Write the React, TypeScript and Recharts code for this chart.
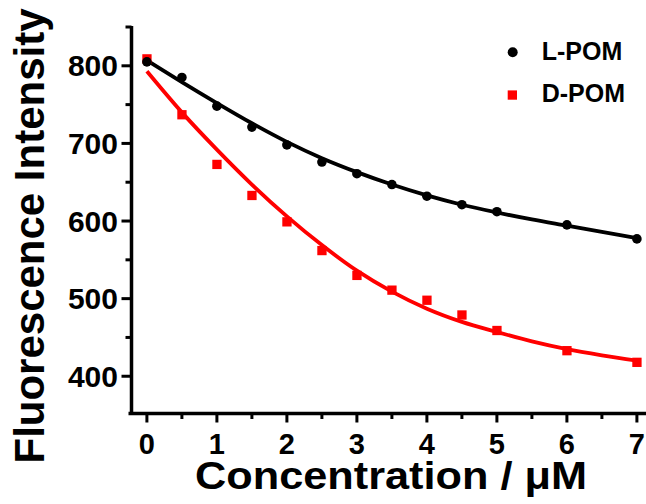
import React from 'react'
import { ComposedChart, Line, Scatter, XAxis, YAxis, Legend } from 'recharts'

// measured points
const concentrations = [0, 0.5, 1, 1.5, 2, 2.5, 3, 3.5, 4, 4.5, 5, 6, 7]
const lPom = [805, 785, 748, 721, 698, 676, 661, 647, 632, 621, 612, 595, 577]
const dPom = [809, 737, 673, 633, 599, 562, 530, 511, 498, 479, 459, 433, 418]

// fitted curves
const fitX = [0, 0.5, 1, 1.5, 2, 2.5, 3, 3.5, 4, 4.5, 5, 5.5, 6, 6.5, 7]
const lFit = [807, 779, 752, 726, 702, 681, 663, 647, 633, 621, 611, 602, 594, 586, 578]
const dFit = [793, 740, 692, 647, 606, 569, 536, 509, 487, 470, 457, 445, 435, 427, 420]

const xDomain = [-0.22, 7.13]
const yDomain = [352, 850]
const xMajorTicks = [0, 1, 2, 3, 4, 5, 6, 7]
const xMinorTicks = [0.5, 1.5, 2.5, 3.5, 4.5, 5.5, 6.5]
const yMajorTicks = [400, 500, 600, 700, 800]
const yMinorTicks = [450, 550, 650, 750, 850]

const seriesNames = ['L-POM', 'D-POM']
const seriesColors = ['#000000', '#ff0000']

const FONT = '"Liberation Sans", Arial, sans-serif'
const AXIS_W = 3.5

const lPoints = concentrations.map((x, i) => ({ x, y: lPom[i] }))
const dPoints = concentrations.map((x, i) => ({ x, y: dPom[i] }))
const lFitData = fitX.map((x, i) => ({ x, y: lFit[i] }))
const dFitData = fitX.map((x, i) => ({ x, y: dFit[i] }))

const YTick = (props: any) => {
  const { x, y, payload } = props
  const major = yMajorTicks.includes(payload.value)
  return (
    <g>
      <line x1={x - (major ? 10 : 6)} x2={x} y1={y} y2={y} stroke="#000" strokeWidth={3} />
      {major && (
        <text x={x - 13.5} y={y + 10.5} textAnchor="end" fontFamily={FONT} fontWeight="bold" fontSize={30} fill="#000">
          {payload.value}
        </text>
      )}
    </g>
  )
}

const XTick = (props: any) => {
  const { x, y, payload } = props
  const major = xMajorTicks.includes(payload.value)
  return (
    <g>
      <line x1={x} x2={x} y1={y} y2={y + (major ? 9 : 5.5)} stroke="#000" strokeWidth={3} />
      {major && (
        <text x={x} y={y + 40.5} textAnchor="middle" fontFamily={FONT} fontWeight="bold" fontSize={29} fill="#000">
          {payload.value}
        </text>
      )}
    </g>
  )
}

// thick axis line + title, drawn from the axis box Recharts hands to the label
const XLabel = (props: any) => {
  const vb = props.viewBox
  return (
    <g>
      <line x1={vb.x - 3} x2={vb.x + vb.width} y1={vb.y} y2={vb.y} stroke="#000" strokeWidth={AXIS_W} />
      <text x={391} y={489} textAnchor="middle" fontFamily={FONT} fontWeight="bold" fontSize={38}
        textLength={392} lengthAdjust="spacingAndGlyphs" fill="#000">
        Concentration / μM
      </text>
    </g>
  )
}

const YLabel = (props: any) => {
  const vb = props.viewBox
  const ax = vb.x + vb.width
  return (
    <g>
      <line x1={ax} x2={ax} y1={vb.y - 1} y2={vb.y + vb.height} stroke="#000" strokeWidth={AXIS_W} />
      <text x={44} y={236} transform="rotate(-90, 44, 236)" textAnchor="middle" fontFamily={FONT}
        fontWeight="bold" fontSize={42} textLength={455} lengthAdjust="spacingAndGlyphs" fill="#000">
        Fluorescence Intensity
      </text>
    </g>
  )
}

const renderLegend = () => (
  <svg width={150} height={85}>
    <circle cx={17.7} cy={22.3} r={5} fill={seriesColors[0]} />
    <text x={46.7} y={29.5} fontFamily={FONT} fontWeight="bold" fontSize={25} fill="#000">{seriesNames[0]}</text>
    <rect x={12.7} y={60.4} width={9.3} height={9.3} fill={seriesColors[1]} />
    <text x={46.7} y={71.8} fontFamily={FONT} fontWeight="bold" fontSize={25} fill="#000">{seriesNames[1]}</text>
  </svg>
)

export default function App() {
  return (
    <div style={{ position: 'absolute', left: 0, top: 0, background: '#fff' }}>
      <ComposedChart width={646} height={504} margin={{ top: 27, right: 0, bottom: 89.5, left: 130.5 }}>
        <XAxis
          type="number"
          dataKey="x"
          domain={xDomain}
          ticks={[...xMajorTicks, ...xMinorTicks].sort((a, b) => a - b)}
          interval={0}
          height={1}
          tickSize={0}
          tickMargin={0}
          tickLine={false}
          tick={<XTick />}
          axisLine={false}
          allowDataOverflow
          label={{ content: XLabel }}
        />
        <YAxis
          type="number"
          domain={yDomain}
          ticks={[...yMajorTicks, ...yMinorTicks].sort((a, b) => a - b)}
          interval={0}
          width={1}
          tickSize={0}
          tickMargin={0}
          tickLine={false}
          tick={<YTick />}
          axisLine={false}
          allowDataOverflow
          label={{ content: YLabel }}
        />
        <Legend layout="horizontal" verticalAlign="middle" align="center" content={renderLegend}
          wrapperStyle={{ left: 495, top: 30, width: 150, height: 85 }} />
        <Line data={dFitData} dataKey="y" type="monotone" stroke={seriesColors[1]} strokeWidth={3.8}
          dot={false} activeDot={false} isAnimationActive={false} legendType="none" />
        <Line data={lFitData} dataKey="y" type="monotone" stroke={seriesColors[0]} strokeWidth={3.8}
          dot={false} activeDot={false} isAnimationActive={false} legendType="none" />
        <Scatter data={dPoints} dataKey="y" name={seriesNames[1]} isAnimationActive={false}
          shape={(p: any) => <rect x={p.cx - 4.6} y={p.cy - 4.6} width={9.3} height={9.3} fill={seriesColors[1]} />} />
        <Scatter data={lPoints} dataKey="y" name={seriesNames[0]} isAnimationActive={false}
          shape={(p: any) => <circle cx={p.cx} cy={p.cy} r={4.8} fill={seriesColors[0]} />} />
      </ComposedChart>
    </div>
  )
}
